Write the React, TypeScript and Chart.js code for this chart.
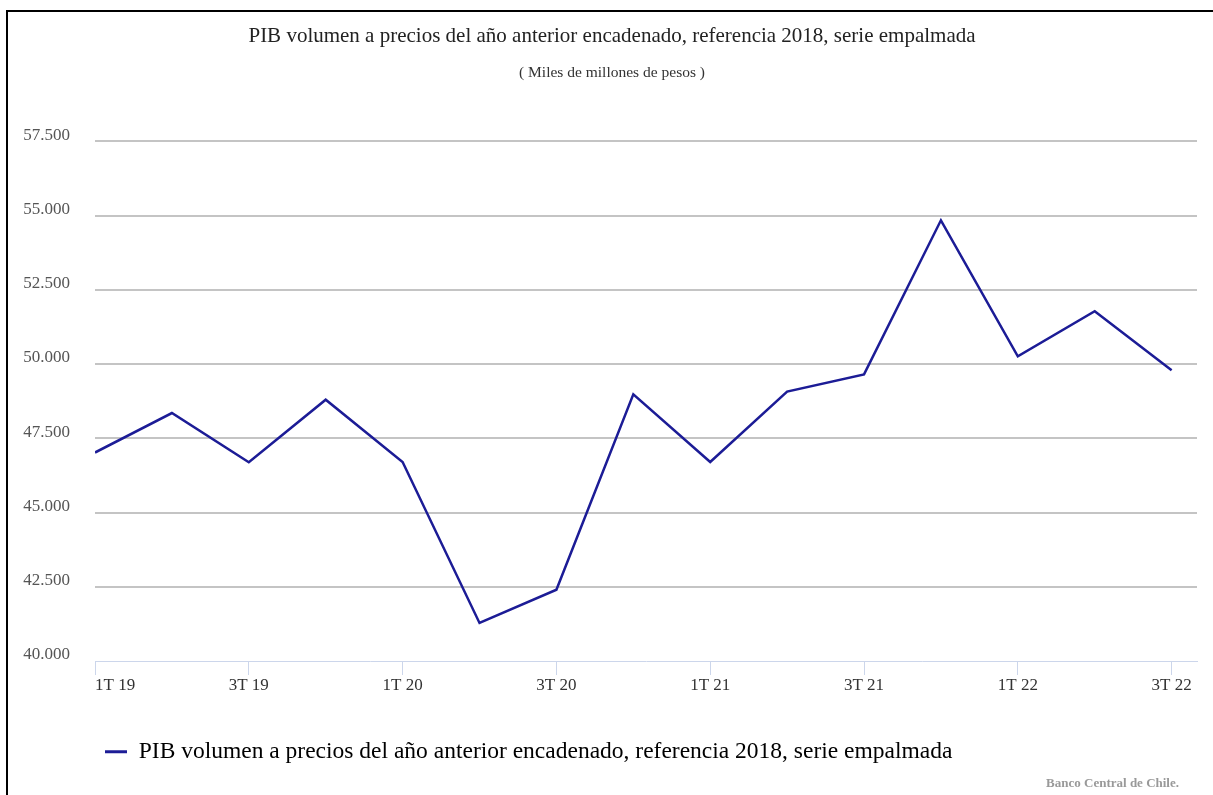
import React, { useEffect, useRef } from "react";
import { Chart, registerables } from "chart.js";

Chart.register(...registerables);

const quarters = [
  "1T 19", "2T 19", "3T 19", "4T 19",
  "1T 20", "2T 20", "3T 20", "4T 20",
  "1T 21", "2T 21", "3T 21", "4T 21",
  "1T 22", "2T 22", "3T 22",
];
const pibValues = [
  47020, 48350, 46690, 48800,
  46700, 41280, 42400, 48980,
  46700, 49070, 49650, 54840,
  50260, 51780, 49790,
];
const yMin = 40000;
const yMax = 57500;
const yStep = 2500;

const seriesName =
  "PIB volumen a precios del año anterior encadenado, referencia 2018, serie empalmada";
const titleText = seriesName;
const subtitleText = "( Miles de millones de pesos )";
const creditText = "Banco Central de Chile.";

const FONT = "'Liberation Serif', 'Times New Roman', serif";
const LINE_COLOR = "#1c1c96";

const fmt = (v: number) =>
  Math.round(v).toString().replace(/\B(?=(\d{3})+(?!\d))/g, ".");

export default function App() {
  const canvasRef = useRef<HTMLCanvasElement | null>(null);

  useEffect(() => {
    if (!canvasRef.current) return;
    const xMax = quarters.length - 1 + 0.33;
    const chart = new Chart(canvasRef.current, {
      type: "line",
      data: {
        datasets: [
          {
            label: seriesName,
            data: pibValues.map((v, i) => ({ x: i, y: v })),
            borderColor: LINE_COLOR,
            backgroundColor: LINE_COLOR,
            borderWidth: 2.5,
            pointRadius: 0,
            pointHoverRadius: 0,
            tension: 0,
            fill: false,
            xAxisID: "x",
            yAxisID: "y",
          },
        ],
      },
      options: {
        responsive: false,
        animation: false,
        devicePixelRatio: 1,
        layout: { padding: { left: 11, right: 0, top: 0, bottom: 21.5 } },
        scales: {
          x: {
            type: "linear",
            min: 0,
            max: xMax,
            afterBuildTicks: (axis: any) => {
              const t = quarters
                .map((_, i) => i)
                .filter((i) => i % 2 === 0)
                .map((i) => ({ value: i }));
              t.push({ value: xMax });
              axis.ticks = t;
            },
            afterFit: (s: any) => {
              s.height = 69;
            },
            ticks: {
              align: "inner",
              autoSkip: false,
              maxRotation: 0,
              minRotation: 0,
              padding: 0,
              color: "#333",
              font: { family: FONT, size: 17 },
              callback: (v: any) =>
                Number.isInteger(v) ? quarters[v] ?? "" : "",
            },
            grid: {
              drawOnChartArea: false,
              drawTicks: true,
              tickLength: 14,
              lineWidth: 1,
              color: (ctx: any) =>
                ctx.tick && Number.isInteger(ctx.tick.value)
                  ? "#ccd6eb"
                  : "rgba(0,0,0,0)",
            },
            border: { display: true, color: "#ccd6eb", width: 1 },
          },
          y: {
            type: "linear",
            position: "left",
            min: yMin,
            max: yMax,
            afterFit: (s: any) => {
              s.width = 84;
            },
            ticks: {
              stepSize: yStep,
              padding: 25,
              labelOffset: -6,
              color: "#555",
              font: { family: FONT, size: 17 },
              callback: (v: any) => fmt(Number(v)),
            },
            grid: {
              drawTicks: false,
              lineWidth: 2,
              color: (ctx: any) =>
                ctx.tick && ctx.tick.value === yMin
                  ? "rgba(0,0,0,0)"
                  : "#c4c4c4",
            },
            border: { display: false },
          },
          yRight: {
            type: "linear",
            position: "right",
            min: yMin,
            max: yMax,
            afterFit: (s: any) => {
              s.width = 16;
            },
            ticks: { display: false },
            grid: { display: false, drawTicks: false },
            border: { display: false },
          },
        },
        plugins: {
          title: {
            display: true,
            text: titleText,
            color: "#222",
            font: { family: FONT, size: 21, weight: "normal" },
            padding: { top: 23.4, bottom: 0 },
          },
          subtitle: {
            display: true,
            text: subtitleText,
            color: "#333",
            font: { family: FONT, size: 15.5, weight: "normal" },
            padding: { top: 15.1, bottom: 59 },
          },
          legend: {
            display: true,
            position: "bottom",
            align: "start",
            fullSize: false,
            labels: {
              boxWidth: 22,
              boxHeight: 3,
              padding: 10,
              color: "#333",
              font: { family: FONT, size: 23.5 },
              generateLabels: () => [
                {
                  text: seriesName,
                  fillStyle: LINE_COLOR,
                  strokeStyle: LINE_COLOR,
                  lineWidth: 0,
                  hidden: false,
                  datasetIndex: 0,
                } as any,
              ],
            },
          },
          tooltip: { enabled: false },
        },
      } as any,
    });
    return () => chart.destroy();
  }, []);

  return (
    <div
      style={{
        position: "fixed",
        left: 0,
        top: 0,
        width: 1213,
        height: 795,
        overflow: "hidden",
        background: "#fff",
      }}
    >
      <canvas
        ref={canvasRef}
        width={1213}
        height={795}
        style={{ position: "absolute", left: 0, top: 0, width: 1213, height: 795 }}
      />
      <div
        style={{
          position: "absolute",
          left: 6,
          top: 10,
          width: 1400,
          height: 1000,
          borderTop: "2px solid #000",
          borderLeft: "2px solid #000",
          pointerEvents: "none",
        }}
      />
      <div
        style={{
          position: "absolute",
          right: 1213 - 1179,
          top: 775,
          fontFamily: FONT,
          fontSize: 13,
          fontWeight: "bold",
          color: "#999",
          whiteSpace: "nowrap",
          lineHeight: "16px",
        }}
      >
        {creditText}
      </div>
    </div>
  );
}
